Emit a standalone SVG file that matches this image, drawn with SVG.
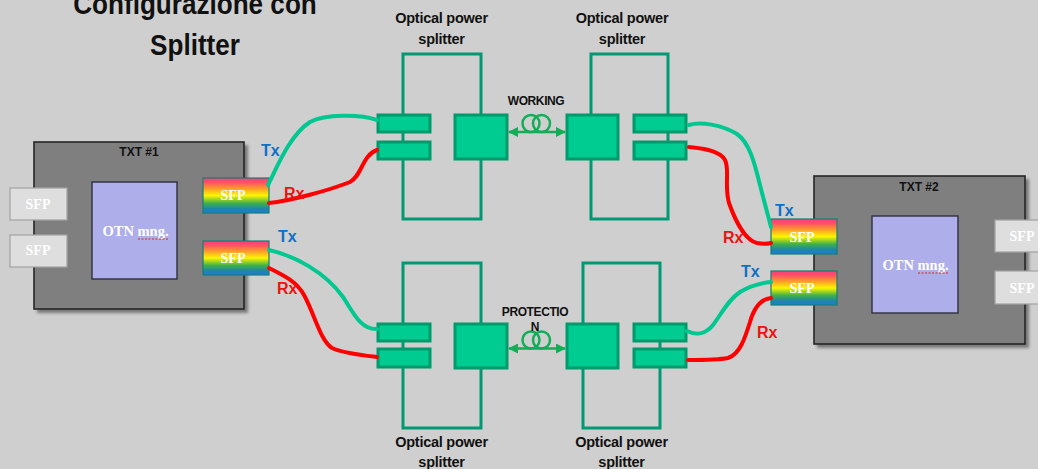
<svg xmlns="http://www.w3.org/2000/svg" width="1038" height="469" viewBox="0 0 1038 469">
<defs>
<linearGradient id="rb" x1="0" y1="0" x2="0" y2="1">
<stop offset="0" stop-color="#ff3b7f"/><stop offset=".12" stop-color="#ff4f68"/><stop offset=".3" stop-color="#ff9a2a"/><stop offset=".5" stop-color="#fdf500"/><stop offset=".72" stop-color="#3fb04a"/><stop offset=".88" stop-color="#1c86a8"/><stop offset="1" stop-color="#2478e0"/>
</linearGradient>
<filter id="sh" x="-5%" y="-5%" width="112%" height="112%"><feGaussianBlur stdDeviation="1.6"/></filter>
<marker id="ah" viewBox="0 0 10 10" refX="9" refY="5" markerWidth="10" markerHeight="10" markerUnits="userSpaceOnUse" orient="auto-start-reverse"><path d="M0 0L10 5L0 10Z" fill="#12ad56"/></marker>
</defs>
<style>
.tx{font-family:"Liberation Sans",Arial,sans-serif}
.b{font-weight:700}
.s{font-family:"Liberation Serif","Times New Roman",serif;font-weight:700;fill:#fff;text-anchor:middle}
.box{fill:#7f7f7f;stroke:#262626;stroke-width:1.6}
.shd{fill:#333;opacity:.55;filter:url(#sh)}
.otn{fill:#aeaeea;stroke:#2f2f3f;stroke-width:1.4}
.gr{fill:#dedede;stroke:#a2a2a2;stroke-width:1.2}
.rb{fill:url(#rb);stroke:#12806f;stroke-width:1.2}
.fr{fill:none;stroke:#009973;stroke-width:3}
.bl{fill:#00cc92;stroke:#009a6c;stroke-width:3}
.tl{fill:none;stroke:#00c890;stroke-width:4;stroke-linecap:round}
.rl{fill:none;stroke:#ff0000;stroke-width:4;stroke-linecap:round}
.blue{fill:#0f6fc6;font-family:"Liberation Sans",Arial,sans-serif;font-weight:700;font-size:16px}
.red{fill:#ee1111;font-family:"Liberation Sans",Arial,sans-serif;font-weight:700;font-size:16px}
.lb{font-family:"Liberation Sans",Arial,sans-serif;font-weight:700;font-size:14.500px;fill:#111;text-anchor:middle;letter-spacing:-.25px}
.wk{font-family:"Liberation Sans",Arial,sans-serif;font-weight:700;font-size:12px;fill:#111;text-anchor:middle;letter-spacing:-.4px}
.fib{fill:none;stroke:#12ad56;stroke-width:2.5}
.ar{stroke:#12ad56;stroke-width:2.5;fill:none;marker-start:url(#ah);marker-end:url(#ah)}
.sq{fill:none;stroke:#e02020;stroke-width:1;stroke-dasharray:2 1.5}
</style>
<rect width="1038" height="469" fill="#cfcfcf"/>
<text class="tx b" transform="translate(195 14) scale(.9 1)" font-size="29" text-anchor="middle" fill="#111">Configurazione con</text>
<text class="tx b" transform="translate(195 55) scale(.9 1)" font-size="29" text-anchor="middle" fill="#111">Splitter</text>

<g id="splitter-tl">
<path class="fr" d="M403 114V54H481V114M403 159V219H481V159M403 133V141"/>
<rect class="bl" x="378" y="115" width="52" height="17"/><rect class="bl" x="378" y="142" width="52" height="17"/><rect class="bl" x="455" y="115" width="52" height="44"/>
<text class="lb" x="441.500" y="23">Optical power</text><text class="lb" x="441.500" y="44">splitter</text>
</g>
<g id="splitter-tr">
<path class="fr" d="M591 114V54H668V114M591 159V219H668V159M668 133V141"/>
<rect class="bl" x="567" y="115" width="51" height="44"/><rect class="bl" x="634" y="115" width="52" height="17"/><rect class="bl" x="634" y="142" width="52" height="17"/>
<text class="lb" x="622" y="23">Optical power</text><text class="lb" x="622" y="44">splitter</text>
</g>
<g id="splitter-bl">
<path class="fr" d="M403 323V263H481V323M403 368V428H481V368M403 342V348"/>
<rect class="bl" x="378" y="324" width="52" height="17"/><rect class="bl" x="378" y="349" width="52" height="18"/><rect class="bl" x="455" y="324" width="52" height="44"/>
<text class="lb" x="441.500" y="447">Optical power</text><text class="lb" x="441.500" y="467">splitter</text>
</g>
<g id="splitter-br">
<path class="fr" d="M583 323V263H660V323M583 368V428H660V368M660 342V348"/>
<rect class="bl" x="567" y="324" width="51" height="44"/><rect class="bl" x="634" y="324" width="52" height="17"/><rect class="bl" x="634" y="349" width="52" height="18"/>
<text class="lb" x="621.500" y="447">Optical power</text><text class="lb" x="621.500" y="467">splitter</text>
</g>

<g id="txt1">
<rect class="shd" x="37" y="145" width="211" height="168"/>
<rect class="box" x="34" y="142" width="210" height="167"/>
<text class="tx b" x="139" y="156" font-size="12" text-anchor="middle" fill="#111">TXT #1</text>
</g>
<g id="otn1"><rect class="otn" x="92" y="182" width="85" height="97"/>
<text class="s" x="135.500" y="236" font-size="14.500">OTN mng.</text><path class="sq" d="M138 239H169"/></g>
<g id="sfp1a"><rect class="gr" x="10" y="188" width="57" height="32"/><text class="s" x="38" y="209" font-size="14">SFP</text></g>
<g id="sfp1b"><rect class="gr" x="10" y="235" width="57" height="32"/><text class="s" x="38" y="255" font-size="14">SFP</text></g>
<g id="sfp1c"><rect class="rb" x="203" y="178" width="66" height="35"/><text class="s" x="233" y="200" font-size="14">SFP</text></g>
<g id="sfp1d"><rect class="rb" x="203" y="241" width="66" height="34"/><text class="s" x="233" y="263" font-size="14">SFP</text></g>

<g id="txt2">
<rect class="shd" x="817" y="179" width="212" height="169"/>
<rect class="box" x="814" y="176" width="211" height="168"/>
<text class="tx b" x="919" y="191" font-size="12" text-anchor="middle" fill="#111">TXT #2</text>
</g>
<g id="otn2"><rect class="otn" x="872" y="216" width="86" height="97"/>
<text class="s" x="915.500" y="270" font-size="14.500">OTN mng.</text><path class="sq" d="M918 273H949"/></g>
<g id="sfp2a"><rect class="rb" x="771" y="219" width="66" height="35"/><text class="s" x="802" y="242" font-size="14">SFP</text></g>
<g id="sfp2b"><rect class="rb" x="771" y="271" width="66" height="34"/><text class="s" x="802" y="293" font-size="14">SFP</text></g>
<g id="sfp2c"><rect class="gr" x="995" y="220" width="50" height="32"/><text class="s" x="1022" y="241" font-size="14">SFP</text></g>
<g id="sfp2d"><rect class="gr" x="995" y="271" width="50" height="33"/><text class="s" x="1022" y="293" font-size="14">SFP</text></g>

<g id="connectors">
<path class="tl" d="M268 185C278 165 290 135 310 122C325 114 360 114 377 120"/>
<path class="rl" d="M269 203C290 201 330 190 350 182C362 176 362 155 377 150"/>
<path class="tl" d="M269 250C295 256 325 272 343 297C352 310 360 330 377 329"/>
<path class="rl" d="M269 268C285 276 297 282 304 295C315 315 320 340 332 348C342 353 360 355 377 357"/>
<path class="tl" d="M689 125C700 121 722 125 737 134C750 143 755 165 760 185C765 205 768 215 771 227"/>
<path class="rl" d="M689 147C700 148 720 150 725 160C730 170 724 185 729 203C735 220 745 240 757 243C762 244 767 244 771 243"/>
<path class="tl" d="M687 331C695 335 705 335 713 325C722 313 728 300 740 292C750 286 760 283 771 282"/>
<path class="rl" d="M688 360C700 360 718 360 728 358C740 354 745 338 750 322C754 308 760 299 771 298"/>
<path class="ar" d="M509 132H565"/>
<circle class="fib" cx="531" cy="123.500" r="8.500"/><circle class="fib" cx="541.500" cy="123.500" r="8.500"/>
<path class="ar" d="M509 348.500H565"/>
<circle class="fib" cx="531" cy="340" r="8.500"/><circle class="fib" cx="541.500" cy="340" r="8.500"/>
</g>
<text class="wk" x="536" y="105">WORKING</text>
<text class="wk" x="535" y="316">PROTECTIO</text>
<text class="wk" x="535" y="331">N</text>
<text class="blue" x="261" y="156">Tx</text><text class="red" x="284" y="199">Rx</text>
<text class="blue" x="278" y="242">Tx</text><text class="red" x="277" y="294">Rx</text>
<text class="blue" x="775" y="216">Tx</text><text class="red" x="723" y="243">Rx</text>
<text class="blue" x="741" y="277">Tx</text><text class="red" x="757" y="338">Rx</text>
</svg>
